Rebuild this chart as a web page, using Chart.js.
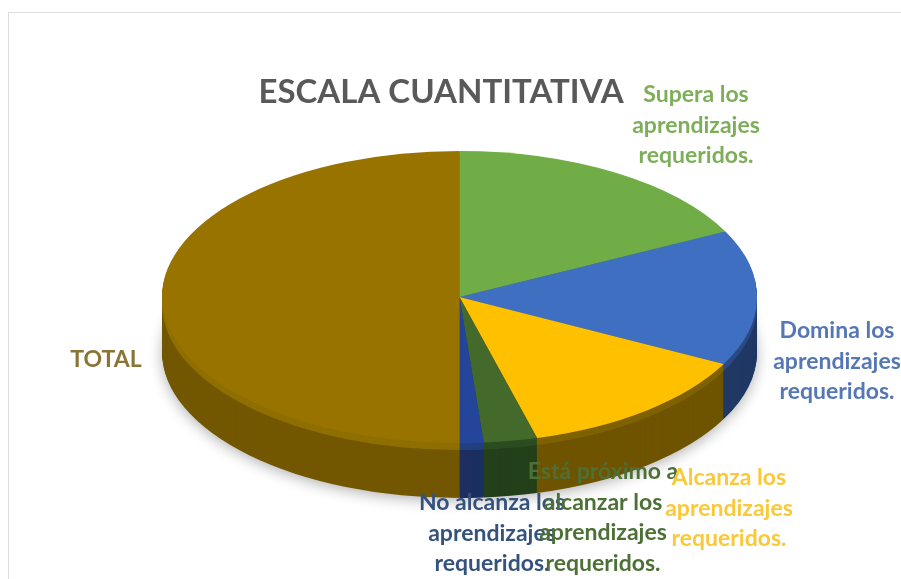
<!DOCTYPE html>
<html>
<head>
<meta charset="utf-8">
<title>Escala cuantitativa</title>
<script src="https://cdn.jsdelivr.net/npm/chart.js@4/dist/chart.umd.min.js"></script>
<style>
  html, body { margin: 0; padding: 0; background: #fff; }
  #wrap { position: relative; width: 901px; height: 579px; overflow: hidden; }
  #frame { position: absolute; left: 8px; top: 12px; width: 900px; height: 600px; border: 1px solid #dcdcdc; }
  canvas { position: absolute; left: 0; top: 0; }
</style>
</head>
<body>
<div id="wrap">
  <div id="frame"></div>
  <canvas id="pieChart" width="901" height="579"></canvas>
</div>
<script>
const categories = [
  'Supera los aprendizajes requeridos.',
  'Domina los aprendizajes requeridos.',
  'Alcanza los aprendizajes requeridos.',
  'Está próximo a alcanzar los aprendizajes requeridos.',
  'No alcanza los aprendizajes requeridos.',
  'TOTAL'
];
const values = [17.6, 15, 13.2, 2.9, 1.3, 50];

const topColors = ['#70ad47', '#3f6fc0', '#ffc000', '#43692b', '#24459a', '#997300'];
const sideColors = ['#4a7330', '#1f3864', '#6f5400', '#23401a', '#1c2f60', '#735700'];
const rimColors = ['#5a8a3a', '#2a4a85', '#7f6200', '#2c4d20', '#223f80', '#8f6f00'];
const textColors = ['#7dae5a', '#5577b5', '#f9c93a', '#4d7036', '#35527f', '#8a7436'];

// wrapped label lines, centre x and first line y for each slice
const labelLines = [
  ['Supera los', 'aprendizajes', 'requeridos.'],
  ['Domina los', 'aprendizajes', 'requeridos.'],
  ['Alcanza los', 'aprendizajes', 'requeridos.'],
  ['Está próximo a', 'alcanzar los', 'aprendizajes', 'requeridos.'],
  ['No alcanza los', 'aprendizajes', 'requeridos.'],
  ['TOTAL']
];
const labelX = [696, 837, 729, 603, 492, 106];
const labelY = [95, 331, 478, 472, 503, 360];
const labelDrawOrder = [0, 1, 5, 4, 3, 2];

// pie is squashed to an ellipse and extruded to look like the 3D original
const pieShape = { cx: 459.5, cy: 297, rx: 297.5, ry: 146, depth: 55, rim: 7 };

const tiltedPie = {
  id: 'tiltedPie',
  beforeDatasetsDraw(chart) {
    const ctx = chart.ctx;
    const arcs = chart.getDatasetMeta(0).data;
    const first = arcs[0];
    const squash = () => {
      ctx.translate(pieShape.cx, pieShape.cy);
      ctx.scale(pieShape.rx / first.outerRadius, pieShape.ry / first.outerRadius);
      ctx.translate(-first.x, -first.y);
    };
    for (let d = pieShape.depth; d >= 1; d--) {
      arcs.forEach((arc, i) => {
        const opts = arc.options;
        const o = Object.create(opts);
        o.backgroundColor = d <= pieShape.rim ? rimColors[i] : sideColors[i];
        ctx.save();
        if (d === pieShape.depth) {
          ctx.shadowColor = 'rgba(0,0,0,0.3)';
          ctx.shadowBlur = 14;
          ctx.shadowOffsetY = 3;
        }
        ctx.translate(0, d);
        squash();
        arc.options = o;
        arc.draw(ctx);
        arc.options = opts;
        ctx.restore();
      });
    }
    ctx.save();
    squash();
  },
  afterDatasetsDraw(chart) {
    chart.ctx.restore();
  },
  afterDraw(chart) {
    const ctx = chart.ctx;
    ctx.save();
    ctx.font = 'bold 23px Lato';
    ctx.textAlign = 'center';
    ctx.textBaseline = 'middle';
    labelDrawOrder.forEach(i => {
      ctx.fillStyle = textColors[i];
      labelLines[i].forEach((line, n) => {
        ctx.fillText(line, labelX[i], labelY[i] + n * 30.5);
      });
    });
    ctx.restore();
  }
};

new Chart(document.getElementById('pieChart').getContext('2d'), {
  type: 'pie',
  data: {
    labels: categories,
    datasets: [{
      data: values,
      backgroundColor: topColors,
      borderWidth: 0,
      clip: false
    }]
  },
  options: {
    responsive: false,
    animation: false,
    layout: { padding: { right: 19 } },
    plugins: {
      legend: { display: false },
      tooltip: { enabled: false },
      title: {
        display: true,
        fullSize: false,
        text: 'ESCALA CUANTITATIVA',
        color: '#595959',
        font: { family: 'Lato', size: 33, weight: 'bold' },
        padding: { top: 73, bottom: 10 }
      }
    }
  },
  plugins: [tiltedPie]
});
</script>
</body>
</html>
